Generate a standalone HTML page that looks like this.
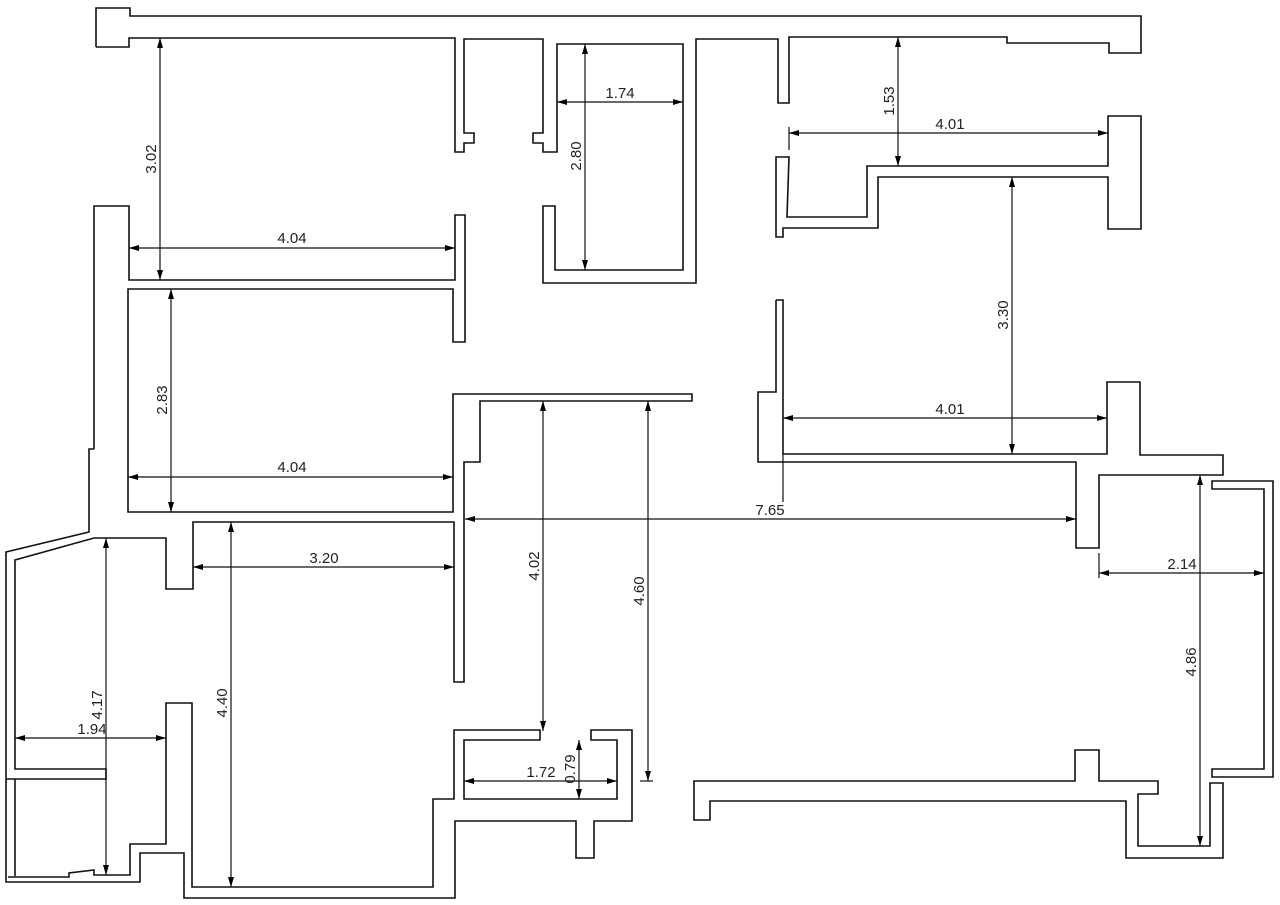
<!DOCTYPE html>
<html><head><meta charset="utf-8"><style>
html,body{margin:0;padding:0;background:#fff;}
svg{display:block;}
text{font-family:"Liberation Sans",sans-serif;font-size:15px;fill:#222;}
</style></head><body>
<svg width="1280" height="905" viewBox="0 0 1280 905" xmlns="http://www.w3.org/2000/svg">
<defs>
<marker id="a" viewBox="0 0 10 6" refX="10" refY="3" markerWidth="10" markerHeight="6" markerUnits="userSpaceOnUse" orient="auto-start-reverse"><path d="M0,0L10,3L0,6z" fill="#000"/></marker>
</defs>
<g fill="none" stroke="#111" stroke-width="1.6">
<polyline points="96,47 96,8 130,8 130,16 1141,16 1141,53 1109,53 1109,43 1007,43 1007,37 789,37 789,103 778,103 778,39 696,39 696,283 543,283 543,206 555,206 555,270 683,270 683,44 557,44 557,152 543,152 543,143 533,143 533,133 543,133 543,39 464,39 464,133 474,133 474,143 464,143 464,152 455,152 455,38 129,38 129,47 96,47"/>
<polygon points="776,157 789,157 787,217 867,217 867,166 1108,166 1108,116 1141,116 1141,229 1108,229 1108,177 878,177 878,228 783,228 783,237 776,237"/>
<polyline points="776,300 783,300 783,454 1107,454 1107,382 1140,382 1140,455 1223,455 1223,475 1099,475 1099,548 1076,548 1076,462 758,462 758,392 776,392 776,300"/>
<polygon points="1212,481 1273,481 1273,777 1212,777 1212,769 1264,769 1264,489 1212,489"/>
<polygon points="694,781 1075,781 1075,750 1099,750 1099,781 1158,781 1158,794 1138,794 1138,846 1210,846 1210,783 1223,783 1223,858 1126,858 1126,801 710,801 710,820 694,820"/>
<polyline points="94,449 94,206 129,206 129,280 455,280 455,215 465,215 465,342 453,342 453,289 128,289 128,512 453,512 453,394 692,394 692,401 480,401 480,462 464,462 464,682 454,682 454,522 193,522 193,589 166,589 166,538 94,538 15,560 15,769 106,769 106,779 6,779 6,552 89,532 89,449 94,449"/>
<polyline points="6,779 6,882 140,882 140,853 184,853 184,898 455,898 455,821 576,821 576,858 594,858 594,821 632,821 632,730 591,730 591,740 617,740 617,799 464,799 464,740 540,740 540,730 454,730 454,799 433,799 433,887 192,887 192,703 166,703 166,844 130,844 130,875 94,875 94,870 69,873 69,877 8,877"/>
<line x1="15" y1="779" x2="15" y2="876"/>
</g>
<g stroke="#111" stroke-width="1.2" fill="none">
<line x1="160" y1="38" x2="160" y2="280" marker-start="url(#a)" marker-end="url(#a)"/>
<line x1="129" y1="248" x2="455" y2="248" marker-start="url(#a)" marker-end="url(#a)"/>
<line x1="171" y1="289" x2="171" y2="512" marker-start="url(#a)" marker-end="url(#a)"/>
<line x1="128" y1="477" x2="453" y2="477" marker-start="url(#a)" marker-end="url(#a)"/>
<line x1="557" y1="102" x2="683" y2="102" marker-start="url(#a)" marker-end="url(#a)"/>
<line x1="585" y1="44" x2="585" y2="270" marker-start="url(#a)" marker-end="url(#a)"/>
<line x1="898" y1="37" x2="898" y2="166" marker-start="url(#a)" marker-end="url(#a)"/>
<line x1="789" y1="133" x2="1108" y2="133" marker-start="url(#a)" marker-end="url(#a)"/>
<line x1="789" y1="127" x2="789" y2="150"/>
<line x1="1012" y1="177" x2="1012" y2="454" marker-start="url(#a)" marker-end="url(#a)"/>
<line x1="783" y1="418" x2="1107" y2="418" marker-start="url(#a)" marker-end="url(#a)"/>
<line x1="783" y1="454" x2="783" y2="502"/>
<line x1="465" y1="519" x2="1076" y2="519" marker-start="url(#a)" marker-end="url(#a)"/>
<line x1="1099" y1="573" x2="1264" y2="573" marker-start="url(#a)" marker-end="url(#a)"/>
<line x1="1099" y1="553" x2="1099" y2="578"/>
<line x1="1200" y1="475" x2="1200" y2="846" marker-start="url(#a)" marker-end="url(#a)"/>
<line x1="193" y1="567" x2="454" y2="567" marker-start="url(#a)" marker-end="url(#a)"/>
<line x1="231" y1="522" x2="231" y2="887" marker-start="url(#a)" marker-end="url(#a)"/>
<line x1="106" y1="538" x2="106" y2="875" marker-start="url(#a)" marker-end="url(#a)"/>
<line x1="15" y1="738" x2="166" y2="738" marker-start="url(#a)" marker-end="url(#a)"/>
<line x1="543" y1="401" x2="543" y2="731" marker-start="url(#a)" marker-end="url(#a)"/>
<line x1="648" y1="401" x2="648" y2="781" marker-start="url(#a)" marker-end="url(#a)"/>
<line x1="640" y1="781" x2="653" y2="781"/>
<line x1="464" y1="781" x2="617" y2="781" marker-start="url(#a)" marker-end="url(#a)"/>
<line x1="579" y1="740" x2="579" y2="799" marker-start="url(#a)" marker-end="url(#a)"/>
</g>
<text x="292" y="243" text-anchor="middle">4.04</text>
<text x="292" y="472" text-anchor="middle">4.04</text>
<text x="620" y="98" text-anchor="middle">1.74</text>
<text x="950" y="129" text-anchor="middle">4.01</text>
<text x="950" y="414" text-anchor="middle">4.01</text>
<text x="770" y="515" text-anchor="middle">7.65</text>
<text x="1182" y="569" text-anchor="middle">2.14</text>
<text x="324" y="563" text-anchor="middle">3.20</text>
<text x="92" y="734" text-anchor="middle">1.94</text>
<text x="541" y="777" text-anchor="middle">1.72</text>
<text transform="translate(156,159) rotate(-90)" text-anchor="middle">3.02</text>
<text transform="translate(167,400) rotate(-90)" text-anchor="middle">2.83</text>
<text transform="translate(581,156) rotate(-90)" text-anchor="middle">2.80</text>
<text transform="translate(894,101) rotate(-90)" text-anchor="middle">1.53</text>
<text transform="translate(1008,315) rotate(-90)" text-anchor="middle">3.30</text>
<text transform="translate(1196,662) rotate(-90)" text-anchor="middle">4.86</text>
<text transform="translate(227,703) rotate(-90)" text-anchor="middle">4.40</text>
<text transform="translate(102,705) rotate(-90)" text-anchor="middle">4.17</text>
<text transform="translate(539,566) rotate(-90)" text-anchor="middle">4.02</text>
<text transform="translate(644,591) rotate(-90)" text-anchor="middle">4.60</text>
<text transform="translate(575,769) rotate(-90)" text-anchor="middle">0.79</text>
</svg>
</body></html>
